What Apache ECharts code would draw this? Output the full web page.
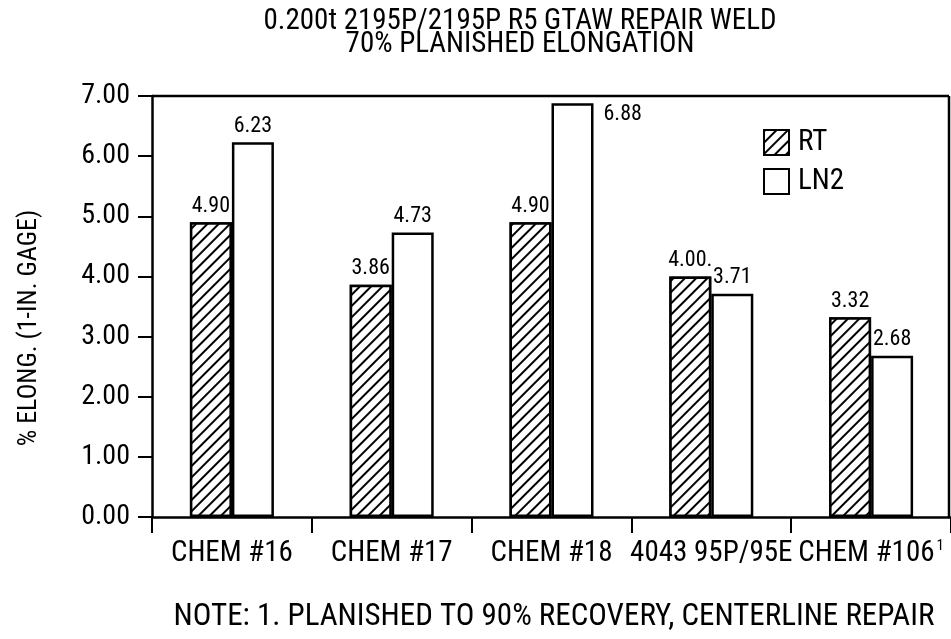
<!DOCTYPE html>
<html><head><meta charset="utf-8">
<script src="https://cdn.jsdelivr.net/npm/echarts@6/dist/echarts.min.js"></script>
<style>html,body{margin:0;padding:0;background:#fff}#c{width:951px;height:639px}</style>
</head><body><div id="c"></div>
<script>
// ---- data ----
const categories = ['CHEM #16', 'CHEM #17', 'CHEM #18', '4043 95P/95E', 'CHEM #106'];
const seriesNames = ['RT', 'LN2'];
const rtValues = [4.90, 3.86, 4.90, 4.00, 3.32];
const ln2Values = [6.23, 4.73, 6.88, 3.71, 2.68];
const rtLabels = ['4.90', '3.86', '4.90', '4.00.', '3.32'];
const ln2Labels = ['6.23', '4.73', '6.88', '3.71', '2.68'];
const yTickLabels = ['0.00', '1.00', '2.00', '3.00', '4.00', '5.00', '6.00', '7.00'];
const footnoteMarks = ['', '', '', '', '1'];
const titleLines = ['0.200t 2195P/2195P R5 GTAW REPAIR WELD', '70% PLANISHED ELONGATION'];
const yTitle = '% ELONG. (1-IN. GAGE)';
const noteText = 'NOTE: 1. PLANISHED TO 90% RECOVERY, CENTERLINE REPAIR';

// ---- layout / style ----
const FF = '"Roboto Condensed", "Liberation Sans Narrow", "Arial Narrow", sans-serif';
const G = { left: 152, top: 96, right: -4, bottom: 122 };
const W = 951, H = 639;
const frameRight = 949;
const plotBottom = H - G.bottom;

const hatch = {
  symbol: 'rect', symbolSize: 1, symbolKeepAspect: false,
  color: '#000', backgroundColor: '#fff',
  dashArrayX: [1, 0], dashArrayY: [1.6, 5.5], rotation: -Math.PI / 4
};

const chart = echarts.init(document.getElementById('c'), null, { renderer: 'canvas' });

const rtData = rtValues.map((v, i) => ({ value: v, label: { formatter: rtLabels[i] } }));
const ln2Data = ln2Values.map((v, i) => {
  const item = { value: v, label: { formatter: ln2Labels[i] } };
  if (v > 6.5) { item.label.position = [52, 0]; item.label.align = 'left'; item.label.verticalAlign = 'top'; }
  return item;
});

const labelCommon = { show: true, position: 'top', distance: 5, color: '#000', fontFamily: FF, fontSize: 22 };

chart.setOption({
  animation: false,
  backgroundColor: '#fff',
  grid: { left: G.left, top: G.top, right: G.right, bottom: G.bottom, containLabel: false },
  legend: {
    data: seriesNames, orient: 'vertical', left: 758, top: 123,
    itemWidth: 25, itemHeight: 25, itemGap: 10, icon: 'rect',
    textStyle: { fontFamily: FF, fontSize: 29, color: '#000', padding: [0, 0, 0, 4] },
    itemStyle: { borderColor: '#000', borderWidth: 2 }
  },
  xAxis: {
    type: 'category', data: categories, boundaryGap: true,
    axisLine: { lineStyle: { color: '#000', width: 2.5 } },
    axisTick: { show: true, length: 16, interval: 0, lineStyle: { color: '#000', width: 2 } },
    axisLabel: {
      interval: 0, margin: 22, color: '#000',
      formatter: (v, i) => '{m|' + v + '}' + (footnoteMarks[i] ? '{s|' + footnoteMarks[i] + '}' : ''),
      rich: {
        m: { fontFamily: FF, fontSize: 29, color: '#000', lineHeight: 30 },
        s: { fontFamily: FF, fontSize: 15, color: '#000', verticalAlign: 'top', lineHeight: 30, padding: [0, 0, 14, 2] }
      }
    },
    splitLine: { show: false }
  },
  yAxis: {
    type: 'value', min: 0, max: 7, interval: 1,
    axisLine: { show: true, lineStyle: { color: '#000', width: 2.5 } },
    axisTick: { show: true, length: 14, lineStyle: { color: '#000', width: 2 } },
    axisLabel: { margin: 22, color: '#000', fontFamily: FF, fontSize: 28,
      formatter: (v) => yTickLabels[Math.round(v)] },
    splitLine: { show: false }
  },
  series: [
    { name: seriesNames[0], type: 'bar', data: rtData, barWidth: 42, barGap: '0%',
      itemStyle: { color: '#fff', borderColor: '#000', borderWidth: 2.5, decal: hatch },
      label: labelCommon },
    { name: seriesNames[1], type: 'bar', data: ln2Data, barWidth: 42, barGap: '0%',
      itemStyle: { color: '#fff', borderColor: '#000', borderWidth: 2.5 },
      label: labelCommon }
  ],
  graphic: [
    { type: 'text', x: 520, y: 10, style: { text: titleLines.join('\n'), font: '29px ' + FF, fill: '#000', textAlign: 'center', textVerticalAlign: 'top', lineHeight: 23 } },
    { type: 'text', x: 29, y: 328, rotation: Math.PI / 2, style: { text: yTitle, font: '26px ' + FF, fill: '#000', textAlign: 'center', textVerticalAlign: 'middle' } },
    { type: 'text', x: 554, y: 617, style: { text: noteText, font: '31px ' + FF, fill: '#000', textAlign: 'center', textVerticalAlign: 'middle' } },
    { type: 'line', shape: { x1: G.left, y1: G.top, x2: frameRight, y2: G.top }, style: { stroke: '#000', lineWidth: 2.5 } },
    { type: 'line', shape: { x1: frameRight, y1: G.top, x2: frameRight, y2: plotBottom }, style: { stroke: '#000', lineWidth: 2.5 } }
  ]
});
</script>
</body></html>
